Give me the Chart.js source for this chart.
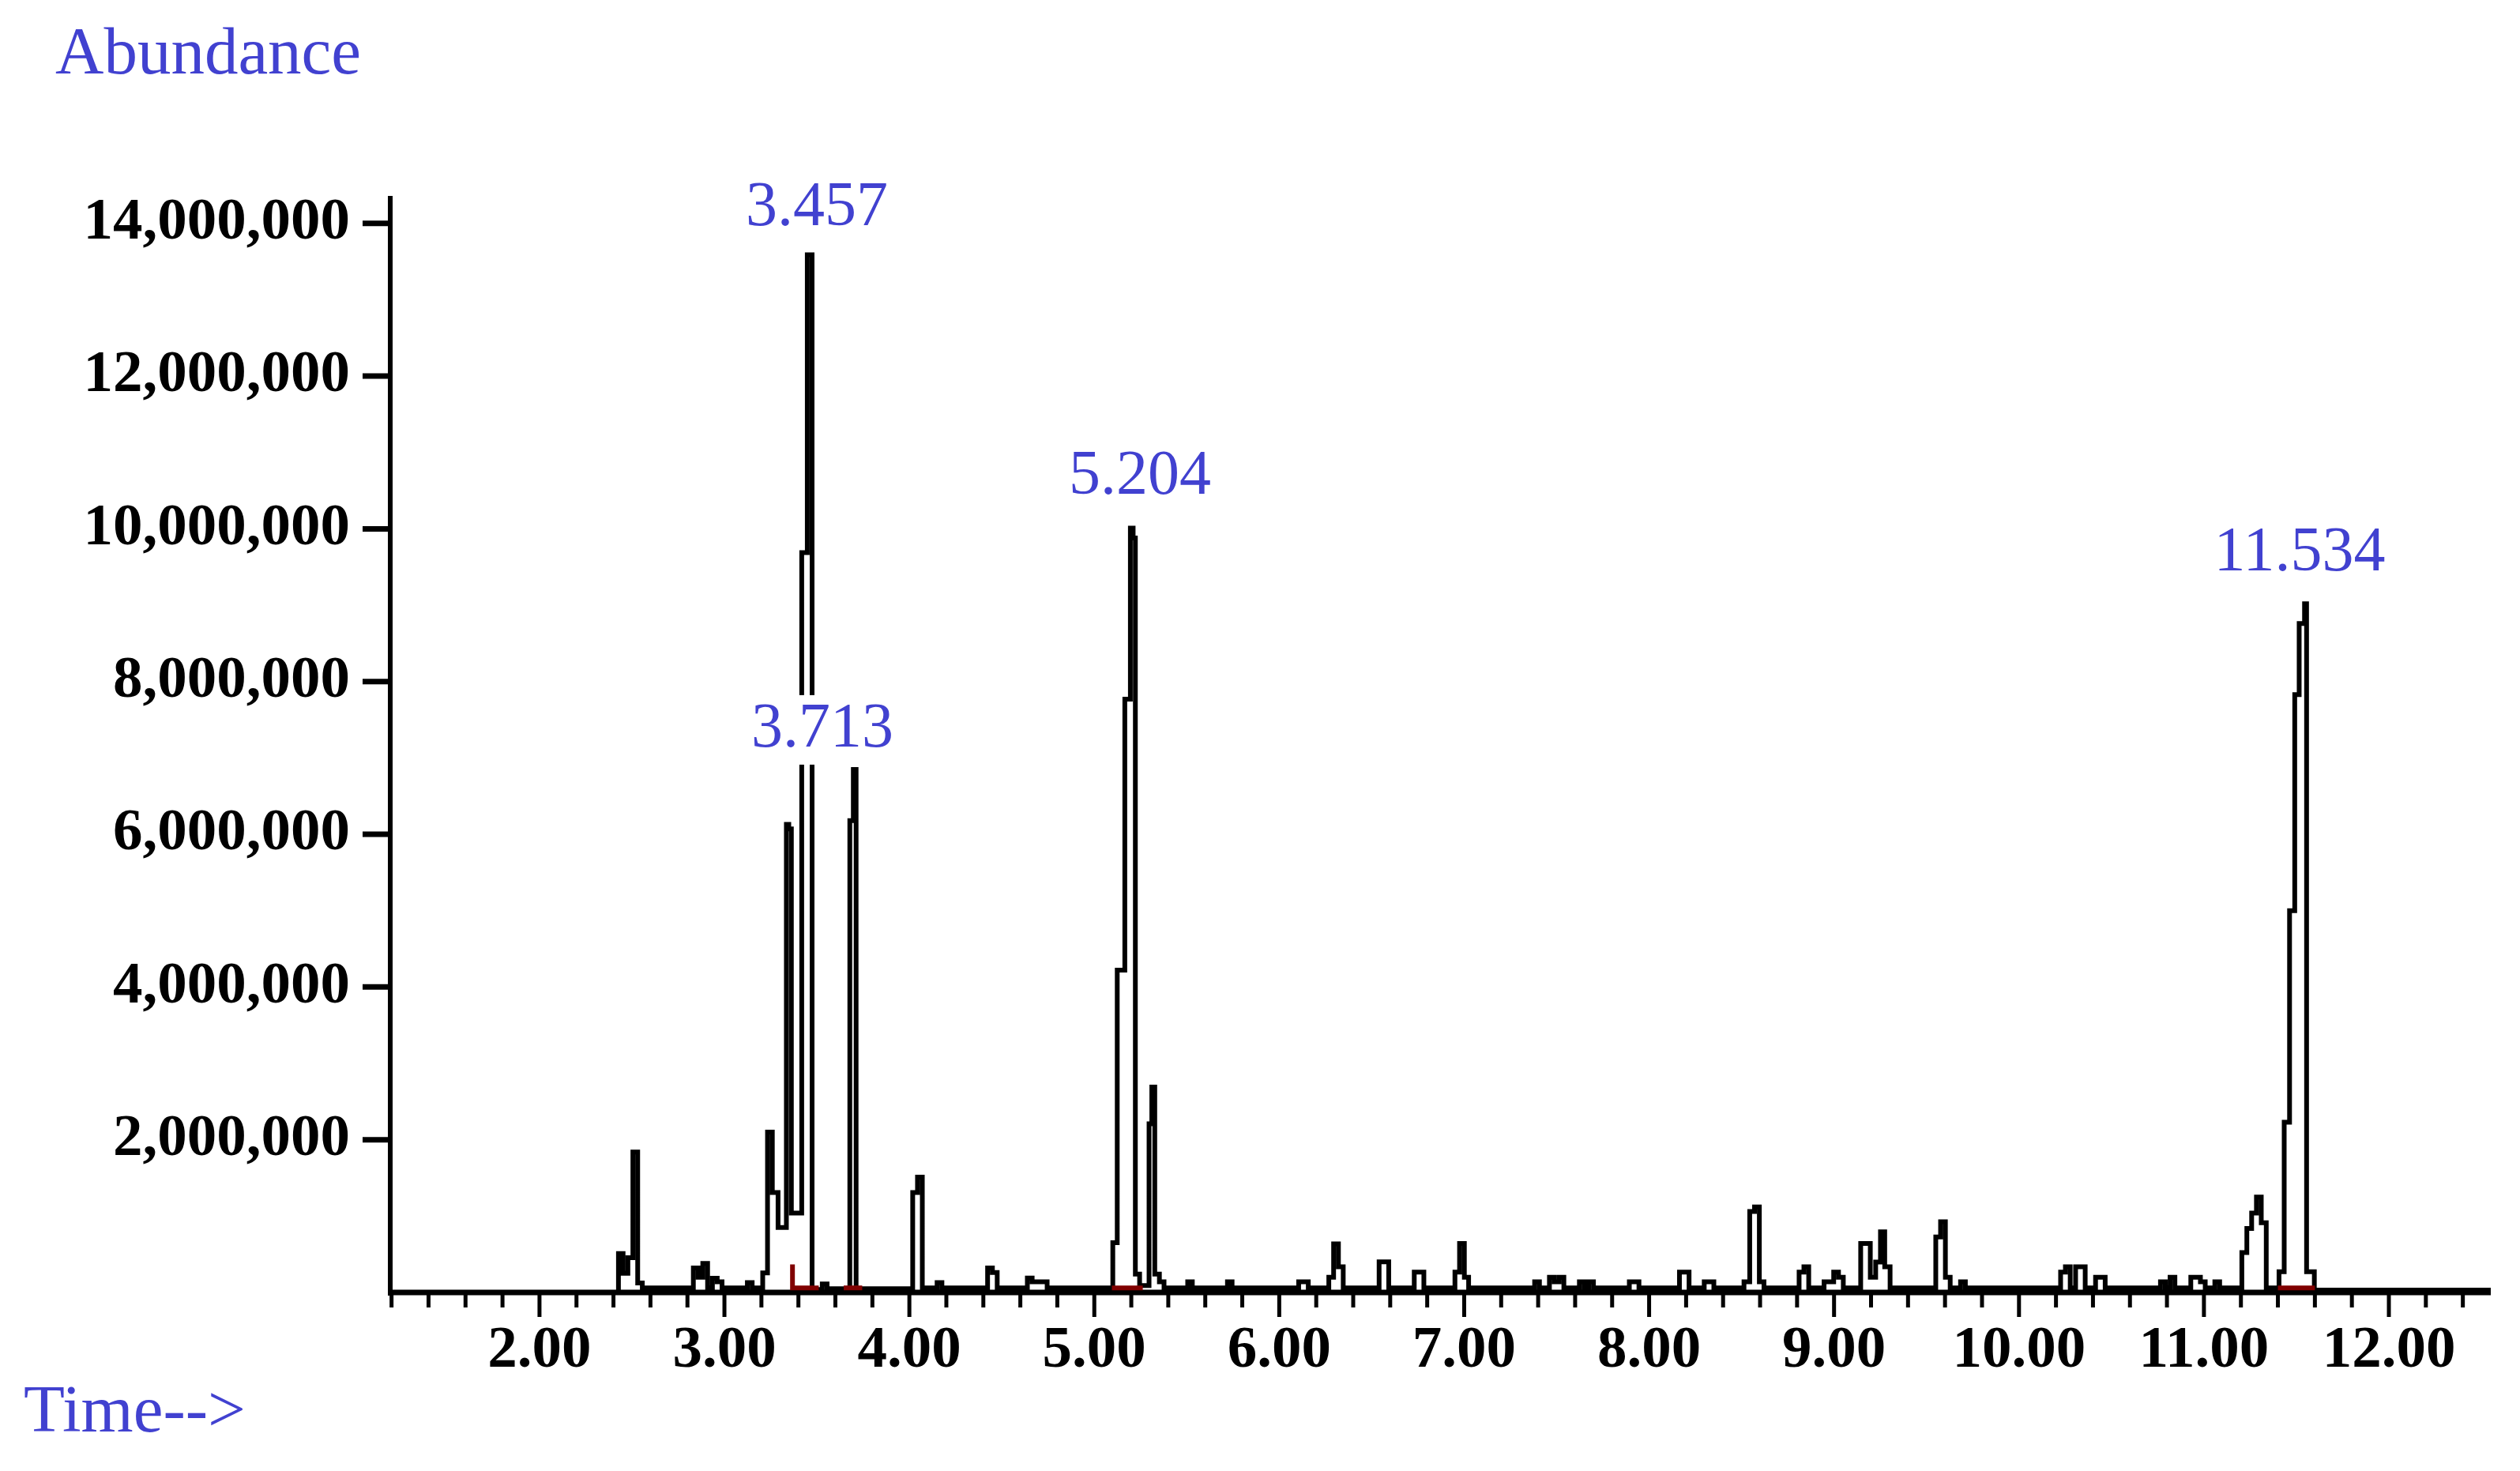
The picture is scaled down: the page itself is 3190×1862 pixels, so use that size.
<!DOCTYPE html>
<html>
<head>
<meta charset="utf-8">
<title>Chromatogram</title>
<script src="https://cdn.jsdelivr.net/npm/chart.js@4.4.1/dist/chart.umd.min.js"></script>
<style>
  body { margin: 0; background: #ffffff; }
  #wrap { width: 3190px; height: 1862px; }
</style>
</head>
<body>
<div id="wrap"><canvas id="myChart" width="3190" height="1862"></canvas></div>
<script>
// retention time (min) where each scan step starts, and its abundance
var retentionTimes = [
  1.193, 2.427, 2.452, 2.478, 2.505, 2.531, 2.556,
  2.832, 2.858, 2.883, 2.909, 2.935, 2.961, 2.987,
  3.124, 3.150, 3.207, 3.233, 3.259, 3.290, 3.335, 3.348, 3.362, 3.418, 3.448, 3.474,
  3.529, 3.555, 3.678, 3.697, 3.712,
  4.018, 4.044, 4.070, 4.150, 4.176, 4.423, 4.449, 4.475, 4.638, 4.664, 4.745,
  5.100, 5.124, 5.165, 5.195, 5.210, 5.222, 5.245, 5.296, 5.311, 5.327, 5.352, 5.377,
  5.505, 5.530, 5.720, 5.745, 6.105, 6.157, 6.268, 6.294, 6.320, 6.346,
  6.540, 6.592, 6.730, 6.782, 6.950, 6.975, 7.001, 7.024,
  7.381, 7.407, 7.461, 7.487, 7.513, 7.539, 7.623, 7.649, 7.673, 7.699,
  7.893, 7.945, 8.164, 8.216, 8.298, 8.350,
  8.513, 8.544, 8.570, 8.596, 8.621, 8.811, 8.837, 8.863,
  8.946, 8.998, 9.024, 9.050, 9.144, 9.196, 9.225, 9.251, 9.274, 9.303,
  9.550, 9.576, 9.602, 9.628, 9.684, 9.710,
  10.225, 10.251, 10.277, 10.306, 10.358, 10.414, 10.466,
  10.765, 10.791, 10.817, 10.843, 10.929, 10.981, 11.007, 11.059, 11.085,
  11.205, 11.232, 11.258, 11.284, 11.310, 11.337,
  11.406, 11.434, 11.463, 11.491, 11.515, 11.544, 11.555, 11.597, 12.551
];
var abundance = [
  0, 509000, 250000, 455000, 1840000, 125000, 60000,
  320000, 200000, 380000, 60000, 185000, 140000, 60000,
  130000, 60000, 255000, 2100000, 1310000, 850000, 6130000, 6070000, 1040000, 9690000, 13590000, 40000,
  110000, 50000, 6180000, 6850000, 50000,
  1310000, 1510000, 60000, 130000, 60000, 320000, 260000, 60000, 190000, 140000, 60000,
  653000, 4220000, 7770000, 10010000, 9880000, 241000, 90000, 2210000, 2690000, 241000, 140000, 60000,
  140000, 60000, 140000, 60000, 140000, 60000, 200000, 635000, 336000, 60000,
  400000, 60000, 267000, 60000, 267000, 641000, 199000, 60000,
  140000, 60000, 199000, 140000, 199000, 60000, 140000, 60000, 140000, 60000,
  140000, 60000, 267000, 60000, 140000, 60000,
  140000, 1060000, 1120000, 140000, 60000, 267000, 336000, 60000,
  140000, 267000, 199000, 60000, 641000, 199000, 398000, 794000, 336000, 60000,
  726000, 926000, 199000, 60000, 140000, 60000,
  267000, 336000, 60000, 336000, 60000, 199000, 60000,
  140000, 60000, 199000, 60000, 199000, 140000, 60000, 140000, 60000,
  522000, 838000, 1040000, 1250000, 913000, 60000,
  271000, 2230000, 5000000, 7830000, 8760000, 9020000, 271000, 30000, 30000
];

// integrated peaks: red baselines under them
var integStart = [3.368, 3.645, 5.095, 11.400];
var integEnd = [3.510, 3.745, 5.262, 11.600];
var integDrop = [367000, 60000, 60000, 60000];
var integBase = [60000, 60000, 60000, 60000];

// labelled peaks
var peakLabels = ['3.457', '3.713', '5.204', '11.534'];
var peakTimes = [3.457, 3.713, 5.204, 11.534];
var peakApex = [13590000, 6850000, 10010000, 9020000];

// axis ticks
var xTicks = [2, 3, 4, 5, 6, 7, 8, 9, 10, 11, 12];
var yTicks = [2000000, 4000000, 6000000, 8000000, 10000000, 12000000, 14000000];

var BLUE = '#4141d0';
var SERIF = "'Liberation Serif', 'Times New Roman', serif";

var traceData = retentionTimes.map(function (t, i) { return { x: t, y: abundance[i] }; });

var datasets = [];
for (var k = 0; k < integStart.length; k++) {
  datasets.push({
    label: 'integration ' + peakLabels[k],
    data: [
      { x: integStart[k], y: integDrop[k] },
      { x: integStart[k], y: integBase[k] },
      { x: integEnd[k], y: integBase[k] }
    ],
    borderColor: '#800000',
    borderWidth: 6,
    pointRadius: 0,
    fill: false,
    order: 0
  });
}
datasets.push({
  label: 'TIC',
  data: traceData,
  borderColor: '#000000',
  borderWidth: 6,
  borderCapStyle: 'butt',
  borderJoinStyle: 'miter',
  stepped: true,
  pointRadius: 0,
  fill: false,
  order: 1
});

var chromPlugin = {
  id: 'chrom',
  beforeDraw: function (chart) {
    var ctx = chart.ctx;
    ctx.save();
    ctx.fillStyle = '#ffffff';
    ctx.fillRect(0, 0, chart.width, chart.height);
    ctx.restore();
  },
  beforeDatasetsDraw: function (chart) {
    var ctx = chart.ctx, a = chart.chartArea;
    var xs = chart.scales.x, ys = chart.scales.y;
    ctx.save();
    ctx.strokeStyle = '#000000';
    ctx.lineCap = 'butt';
    // y axis
    ctx.lineWidth = 6;
    ctx.beginPath();
    ctx.moveTo(a.left, a.top);
    ctx.lineTo(a.left, a.bottom + 4);
    ctx.stroke();
    // x axis
    ctx.lineWidth = 7;
    ctx.beginPath();
    ctx.moveTo(a.left, a.bottom);
    ctx.lineTo(a.right, a.bottom);
    ctx.stroke();
    // y ticks
    yTicks.forEach(function (v) {
      var y = ys.getPixelForValue(v);
      ctx.beginPath();
      ctx.moveTo(a.left - 35, y);
      ctx.lineTo(a.left, y);
      ctx.stroke();
    });
    // x ticks, minor every 0.2 min
    ctx.lineWidth = 5;
    for (var m = 6; m <= 62; m++) {
      var t = m / 5;
      var x = xs.getPixelForValue(t);
      var major = (m % 5 === 0);
      ctx.beginPath();
      ctx.moveTo(x, a.bottom);
      ctx.lineTo(x, a.bottom + (major ? 31 : 19));
      ctx.stroke();
    }
    ctx.restore();
  },
  afterDatasetsDraw: function (chart) {
    var ctx = chart.ctx;
    var xs = chart.scales.x, ys = chart.scales.y;
    var offs = chart.options.plugins.chrom.offsets;
    ctx.save();
    ctx.font = '80px ' + SERIF;
    ctx.textAlign = 'center';
    ctx.textBaseline = 'middle';
    peakLabels.forEach(function (lbl, i) {
      var cx = xs.getPixelForValue(peakTimes[i]) + offs[i][0];
      var cy = ys.getPixelForValue(peakApex[i]) + offs[i][1];
      var w = ctx.measureText(lbl).width;
      ctx.fillStyle = '#ffffff';
      ctx.fillRect(cx - w / 2 - 4, cy - 44, w + 8, 88);
      ctx.fillStyle = BLUE;
      ctx.fillText(lbl, cx, cy);
    });
    // axis titles
    ctx.font = '85px ' + SERIF;
    ctx.textAlign = 'left';
    ctx.textBaseline = 'alphabetic';
    ctx.fillText('Abundance', 70, 93);
    ctx.fillText('Time-->', 30, 1812);
    ctx.restore();
  }
};

var ctx = document.getElementById('myChart').getContext('2d');
var myChart = new Chart(ctx, {
  type: 'line',
  data: { datasets: datasets },
  plugins: [chromPlugin],
  options: {
    responsive: false,
    animation: false,
    events: [],
    layout: { padding: { left: 0, right: 37, top: 248, bottom: 0 } },
    plugins: {
      legend: { display: false },
      tooltip: { enabled: false },
      chrom: { offsets: [[10, -58], [-43, -50], [10, -64], [-4, -63]] }
    },
    scales: {
      x: {
        type: 'linear',
        min: 1.193,
        max: 12.551,
        grid: { display: false, drawTicks: false },
        border: { display: false },
        afterBuildTicks: function (scale) {
          scale.ticks = xTicks.map(function (v) { return { value: v }; });
        },
        afterFit: function (scale) { scale.height = 226; },
        ticks: {
          autoSkip: false,
          maxRotation: 0,
          padding: 30,
          color: '#000000',
          font: { family: SERIF, size: 75, weight: 'bold' },
          callback: function (v) { return Number(v).toFixed(2); }
        }
      },
      y: {
        type: 'linear',
        min: 0,
        max: 14360000,
        grid: { display: false, drawTicks: false },
        border: { display: false },
        afterBuildTicks: function (scale) {
          scale.ticks = yTicks.map(function (v) { return { value: v }; });
        },
        afterFit: function (scale) { scale.width = 494; },
        ticks: {
          autoSkip: false,
          padding: 51,
          color: '#000000',
          font: { family: SERIF, size: 75, weight: 'bold' },
          callback: function (v) { return Number(v).toLocaleString('en-US'); }
        }
      }
    }
  }
});
</script>
</body>
</html>
